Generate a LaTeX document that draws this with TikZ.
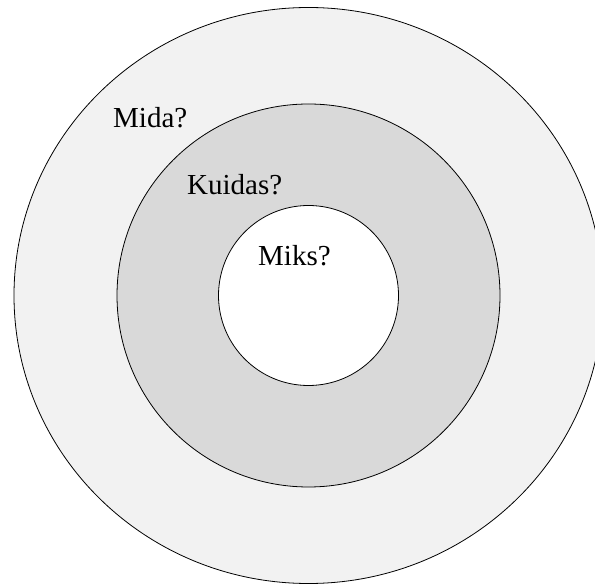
\documentclass[tikz,border=0pt]{standalone}
\usepackage{fontspec}
\setmainfont{Liberation Serif}
\usepackage{tikz}
\usetikzlibrary{positioning}

\definecolor{ringout}{HTML}{F2F2F2}
\definecolor{ringmid}{HTML}{D9D9D9}

\begin{document}
\begin{tikzpicture}[
  x=1pt, y=1pt,
  ring/.style={draw=black, line width=0.8pt},
  qlab/.style={font=\fontsize{29}{34}\selectfont, inner sep=0pt, anchor=base west}
]
\useasboundingbox (0,0) rectangle (595,584);
\clip (0,0) rectangle (595,584);
\coordinate (c) at (308.5,288.5);
% rings, outside to inside
\filldraw[ring, fill=ringout] (c) ellipse [x radius=294.5, y radius=288];
\filldraw[ring, fill=ringmid] (c) circle [radius=191.5];
\filldraw[ring, fill=white] (c) circle [radius=90];
% questions
\node[qlab] (mida) at (113,456.7) {Mida?};
\node[qlab] (kuidas) at (187,389) {Kuidas?};
\node[qlab] (miks) at (258,318) {Miks?};
\end{tikzpicture}
\end{document}
